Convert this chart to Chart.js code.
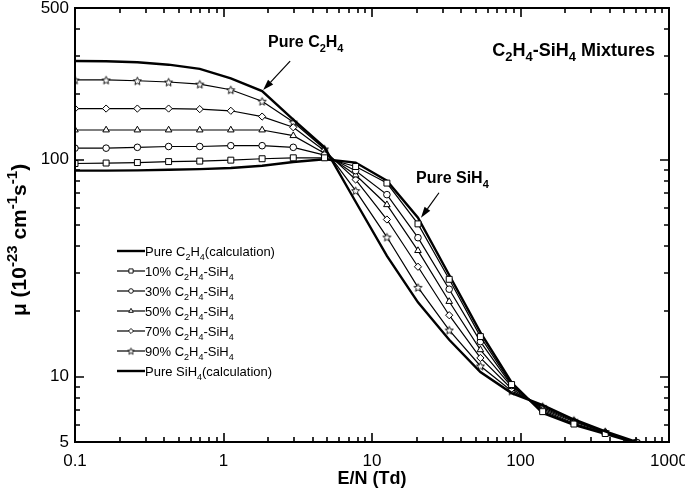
<!DOCTYPE html>
<html>
<head>
<meta charset="utf-8">
<script src="https://cdn.jsdelivr.net/npm/chart.js@4.4.0/dist/chart.umd.min.js"></script>
<style>
html, body { margin: 0; padding: 0; background: #fff; }
#wrap { width: 685px; height: 491px; }
</style>
</head>
<body>
<div id="wrap"><canvas id="chart"></canvas></div>
<script>
// E/N in Td
const EN = [0.1, 0.162, 0.263, 0.427, 0.692, 1.12, 1.82, 2.95, 4.79, 7.76, 12.6, 20.4, 33.1, 53.7, 87.1, 141, 229, 372, 603];

// mobility, 10^-23 cm^-1 s^-1
const pureC2H4 = [285, 284, 281, 274, 262, 237, 207, 153, 114, 64, 36, 22, 14.8, 10.5, 8.4, 7.4, 6.35, 5.6, 5.0];
const mix90 = [233, 233, 231, 228, 223, 210, 186, 149, 112, 72, 44, 25.8, 16.4, 11.2, 8.6, 7.3, 6.3, 5.58, 5.0];
const mix70 = [172, 172, 172, 172, 171, 168, 158, 141, 110, 81, 53, 32.1, 19.2, 12.2, 8.8, 7.2, 6.25, 5.55, 4.98];
const mix50 = [137, 137, 137, 137, 137, 137, 137, 129, 107, 85, 62, 38.1, 22.2, 13.3, 9.0, 7.1, 6.2, 5.52, 4.98];
const mix30 = [113, 113, 114, 115, 115, 116, 116, 114, 105, 89, 69, 43.7, 25.3, 14.5, 9.1, 7.0, 6.1, 5.5, 4.97];
const mix10 = [96, 96.5, 97, 98, 98.5, 99.5, 101, 102, 102, 93, 78, 50.6, 28.1, 15.3, 9.2, 6.9, 6.05, 5.47, 4.96];
const pureSiH4 = [89, 89, 89.3, 89.8, 90.5, 91.6, 93.8, 97.5, 100.5, 97, 80, 54, 29.4, 16, 9.4, 6.8, 6.0, 5.45, 4.95];

const xTicks = [0.1, 1, 10, 100, 1000];
const yTicks = [5, 10, 100, 500];

// legend text pieces: [text, "" | "sub" | "sup"]
const mixName = (p) => [[p + " C", ""], ["2", "sub"], ["H", ""], ["4", "sub"], ["-SiH", ""], ["4", "sub"]];
const legendText = [
  [["Pure C", ""], ["2", "sub"], ["H", ""], ["4", "sub"], ["(calculation)", ""]],
  mixName("10%"), mixName("30%"), mixName("50%"), mixName("70%"), mixName("90%"),
  [["Pure SiH", ""], ["4", "sub"], ["(calculation)", ""]]
];

function makeStar(r) {
  const s = Math.ceil(r * 2 + 4);
  const c = document.createElement("canvas");
  c.width = s; c.height = s;
  const g = c.getContext("2d");
  g.translate(s / 2, s / 2 + 0.5);
  g.beginPath();
  for (let i = 0; i < 10; i++) {
    const rr = i % 2 ? r * 0.45 : r;
    const a = -Math.PI / 2 + i * Math.PI / 5;
    g.lineTo(rr * Math.cos(a), rr * Math.sin(a));
  }
  g.closePath();
  g.fillStyle = "#fff"; g.fill();
  g.lineWidth = 0.9; g.strokeStyle = "#000"; g.stroke();
  return c;
}
const star = makeStar(4.2);
const starSmall = makeStar(3.4);

const pts = (ys) => ys.map((y, i) => ({ x: EN[i], y: y }));

function series(ys, style, radius, width) {
  return {
    data: pts(ys),
    borderColor: "#000",
    borderWidth: width,
    backgroundColor: "#fff",
    pointStyle: style,
    pointRadius: radius,
    pointBorderWidth: 1,
    pointBorderColor: "#000",
    pointBackgroundColor: "#fff",
    tension: 0,
    fill: false
  };
}

const datasets = [
  series(pureC2H4, "circle", 0, 2.4),
  series(mix10, "rect", 4.2, 1.2),
  series(mix30, "circle", 3.3, 1.2),
  series(mix50, "triangle", 3.8, 1.2),
  series(mix70, "rectRot", 3.6, 1.2),
  series(mix90, star, 4, 1.2),
  series(pureSiH4, "circle", 0, 2.4)
];

function rich(ctx, parts, x, y, size, weight, family) {
  for (const [t, k] of parts) {
    const fs = k ? Math.round(size * 0.7) : size;
    ctx.font = weight + " " + fs + "px " + family;
    const dy = k === "sub" ? size * 0.3 : k === "sup" ? -size * 0.42 : 0;
    ctx.fillText(t, x, y + dy);
    x += ctx.measureText(t).width;
  }
  return x;
}
function richWidth(ctx, parts, size, weight, family) {
  let w = 0;
  for (const [t, k] of parts) {
    const fs = k ? Math.round(size * 0.7) : size;
    ctx.font = weight + " " + fs + "px " + family;
    w += ctx.measureText(t).width;
  }
  return w;
}

function arrow(ctx, x1, y1, x2, y2) {
  const a = Math.atan2(y2 - y1, x2 - x1);
  const L = 11, W = 3.5;
  ctx.lineWidth = 1.2;
  ctx.beginPath(); ctx.moveTo(x1, y1);
  ctx.lineTo(x2 - L * Math.cos(a), y2 - L * Math.sin(a)); ctx.stroke();
  ctx.beginPath();
  ctx.moveTo(x2, y2);
  ctx.lineTo(x2 - L * Math.cos(a) + W * Math.sin(a), y2 - L * Math.sin(a) - W * Math.cos(a));
  ctx.lineTo(x2 - L * Math.cos(a) - W * Math.sin(a), y2 - L * Math.sin(a) + W * Math.cos(a));
  ctx.closePath(); ctx.fill();
}

const FONT = "'Liberation Sans', Arial, sans-serif";

const decor = {
  id: "decor",
  afterDraw(chart) {
    const { ctx, chartArea: a, scales: { x, y } } = chart;
    ctx.save();
    ctx.strokeStyle = "#000";
    ctx.fillStyle = "#000";

    // frame
    ctx.lineWidth = 2;
    ctx.strokeRect(a.left, a.top, a.right - a.left, a.bottom - a.top);

    // inward ticks on all four sides
    ctx.lineWidth = 1.6;
    ctx.beginPath();
    for (let d = 0.1; d < 999; d *= 10) {
      for (let m = 1; m <= 9; m++) {
        const v = d * m;
        const px = Math.round(x.getPixelForValue(v));
        const len = m === 1 ? 9 : 5;
        if (px <= a.left + 1) continue;
        ctx.moveTo(px, a.bottom); ctx.lineTo(px, a.bottom - len);
        ctx.moveTo(px, a.top); ctx.lineTo(px, a.top + len);
      }
    }
    for (let d = 1; d < 500; d *= 10) {
      for (let m = 1; m <= 9; m++) {
        const v = d * m;
        if (v <= 5 || v >= 500) continue;
        const py = Math.round(y.getPixelForValue(v));
        const len = m === 1 ? 9 : 5;
        ctx.moveTo(a.left, py); ctx.lineTo(a.left + len, py);
        ctx.moveTo(a.right, py); ctx.lineTo(a.right - len, py);
      }
    }
    ctx.stroke();

    // axis titles
    ctx.textBaseline = "alphabetic";
    ctx.font = "bold 18px " + FONT;
    ctx.textAlign = "center";
    ctx.fillText("E/N (Td)", (a.left + a.right) / 2, 484);
    ctx.textAlign = "left";

    const yLab = [["\u03bc (10", ""], ["-23", "sup"], [" cm", ""], ["-1", "sup"], ["s", ""], ["-1", "sup"], [")", ""]];
    const yw = richWidth(ctx, yLab, 21, "bold", FONT);
    ctx.save();
    ctx.translate(26, 240);
    ctx.rotate(-Math.PI / 2);
    rich(ctx, yLab, -yw / 2, 0, 21, "bold", FONT);
    ctx.restore();

    // title
    const title = [["C", ""], ["2", "sub"], ["H", ""], ["4", "sub"], ["-SiH", ""], ["4", "sub"], [" Mixtures", ""]];
    const tw = richWidth(ctx, title, 18, "bold", FONT);
    rich(ctx, title, a.right - 14 - tw, a.top + 48, 18, "bold", FONT);

    // arrows and labels pointing at the pure curves
    const hx1 = x.getPixelForValue(EN[6]) + 1, hy1 = y.getPixelForValue(pureC2H4[6]) - 1;
    arrow(ctx, hx1 + 27, hy1 - 29, hx1, hy1);
    rich(ctx, [["Pure C", ""], ["2", "sub"], ["H", ""], ["4", "sub"]], hx1 + 5, hy1 - 43, 16, "bold", FONT);

    const hx2 = x.getPixelForValue(EN[11]) + 3, hy2 = y.getPixelForValue(pureSiH4[11]);
    arrow(ctx, hx2 + 18, hy2 - 25, hx2, hy2);
    rich(ctx, [["Pure SiH", ""], ["4", "sub"]], hx2 - 5, hy2 - 35, 16, "bold", FONT);

    // legend
    const lx = a.left + 42, ly = a.top + 243;
    chart.data.datasets.forEach((ds, i) => {
      const yy = ly + i * 20;
      ctx.strokeStyle = "#000";
      ctx.lineWidth = ds.borderWidth;
      ctx.beginPath(); ctx.moveTo(lx, yy); ctx.lineTo(lx + 28, yy); ctx.stroke();
      if (ds.pointRadius > 0) {
        ctx.fillStyle = "#fff";
        ctx.lineWidth = 0.9;
        const st = ds.pointStyle === star ? starSmall : ds.pointStyle;
        Chart.helpers.drawPoint(ctx, {
          pointStyle: st, radius: ds.pointRadius * 0.7, borderWidth: 0.9, rotation: 0
        }, lx + 14, yy);
      }
      ctx.fillStyle = "#000";
      rich(ctx, legendText[i], lx + 28, yy + 5, 13, "normal", FONT);
    });
    ctx.restore();
  }
};

new Chart(document.getElementById("chart"), {
  type: "line",
  data: { datasets: datasets },
  plugins: [decor],
  options: {
    responsive: true,
    maintainAspectRatio: false,
    animation: false,
    layout: { padding: { top: 8, right: 16, left: 0, bottom: 0 } },
    plugins: { legend: { display: false }, tooltip: { enabled: false } },
    scales: {
      x: {
        type: "logarithmic", min: 0.1, max: 1000,
        grid: { display: false, drawTicks: false }, border: { display: false },
        afterBuildTicks: (s) => { s.ticks = xTicks.map((v) => ({ value: v })); },
        ticks: { color: "#000", font: { family: FONT, size: 17 }, padding: 9, maxRotation: 0, autoSkip: false,
          callback: (v) => String(v) },
        afterFit: (s) => { s.height = 49; s.paddingLeft = 0; s.paddingRight = 0; }
      },
      y: {
        type: "logarithmic", min: 5, max: 500,
        grid: { display: false, drawTicks: false }, border: { display: false },
        afterBuildTicks: (s) => { s.ticks = yTicks.map((v) => ({ value: v })); },
        ticks: { color: "#000", font: { family: FONT, size: 17 }, padding: 6, autoSkip: false,
          callback: (v) => String(v) },
        afterFit: (s) => { s.width = 75; s.paddingTop = 0; s.paddingBottom = 0; }
      }
    }
  }
});
</script>
</body>
</html>
